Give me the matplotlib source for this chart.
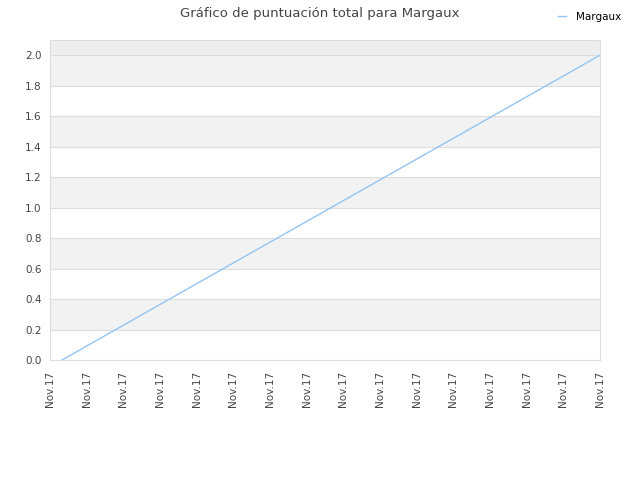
import numpy as np
import matplotlib.pyplot as plt

# data
tick_labels = ["Nov.17"] * 16
line_x = [0.33, 15.0]
line_y = [0.0, 2.0]
series_name = "Margaux"
title = "Gráfico de puntuación total para Margaux"

fig = plt.figure(figsize=(6.4, 4.8), dpi=100)
ax = fig.add_axes([0.078, 0.25, 0.8595, 0.6667])

# alternating horizontal bands
for i, lo in enumerate(np.arange(0, 2.0, 0.2)):
    if i % 2 == 1:
        ax.axhspan(lo, lo + 0.2, color="#f2f2f2", zorder=0, lw=0)
ax.axhspan(2.0, 2.1, color="#eeeeee", zorder=0, lw=0)

ax.plot(line_x, line_y, color="#92c5f5", lw=1.0, label=series_name, zorder=3)

ax.set_xlim(0, 15)
ax.set_ylim(0, 2.1)
ax.set_yticks(np.arange(0, 2.01, 0.2))
ax.set_yticklabels([f"{v:.1f}" for v in np.arange(0, 2.01, 0.2)])
ax.set_xticks(range(len(tick_labels)))
ax.set_xticklabels(tick_labels, rotation=90)
ax.tick_params(axis="x", length=0, labelsize=7.5, labelcolor="#444444", pad=8)
ax.tick_params(axis="y", length=0, labelsize=7.5, labelcolor="#444444", pad=6)

ax.grid(axis="y", color="#dddddd", lw=0.8, zorder=1)
ax.set_axisbelow(True)
for sp in ax.spines.values():
    sp.set_color("#dddddd")
    sp.set_linewidth(0.8)

fig.text(0.5, 0.972, title, ha="center", va="center", fontsize=9.5, color="#444444")
fig.legend(loc="upper right", bbox_to_anchor=(0.985, 0.995), frameon=False,
           fontsize=7.5, handlelength=0.8, handletextpad=0.9)

fig.savefig("out.png", dpi=100)
